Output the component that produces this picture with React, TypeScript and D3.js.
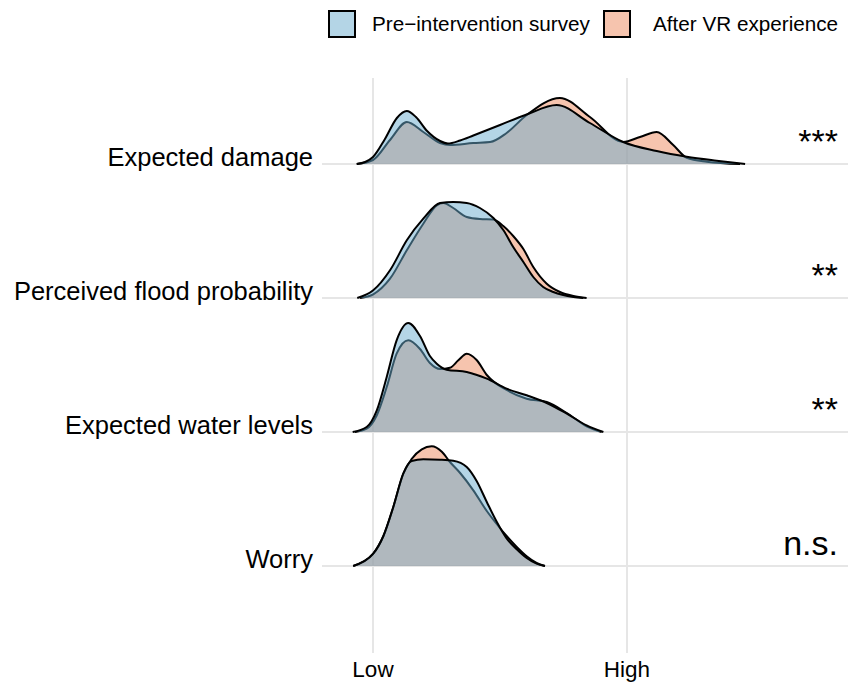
import React from "react";
import * as d3 from "d3";

// ---- data ----
const CATEGORIES = ["Expected damage", "Perceived flood probability", "Expected water levels", "Worry"];
const SIGNIFICANCE = ["***", "**", "**", "n.s."];
const SERIES = ["Pre\u2212intervention survey", "After VR experience"];
const X_TICKS = [0, 100];
const X_TICK_LABELS = ["Low", "High"];

// scaled densities: [score (Low=0, High=100), relative density]
const damagePre: [number, number][] = [
  [-6.4, 0], [-3.1, 0.02], [0, 0.07], [4.7, 0.25], [9.4, 0.46], [13.3, 0.53], [16.9, 0.47], [21.3, 0.33],
  [26.4, 0.23], [29.5, 0.205], [34.3, 0.235], [39.5, 0.285], [50, 0.39], [60.5, 0.495], [72.3, 0.59], [85.4, 0.41],
  [98.5, 0.22], [111.7, 0.13], [123.5, 0.073], [135.3, 0.033], [146.5, 0],
];
const damageAfter: [number, number][] = [
  [-6.4, 0], [0, 0.04], [6.7, 0.24], [13.3, 0.42], [19.8, 0.32], [26.4, 0.21], [30.3, 0.19], [39.5, 0.21],
  [46.1, 0.22], [52.6, 0.31], [60.5, 0.49], [73.6, 0.66], [85.4, 0.47], [98.5, 0.22], [105.1, 0.27],
  [111.7, 0.32], [118.2, 0.19], [123.5, 0.063], [131.4, 0.023], [144.5, 0],
];
const probabilityPre: [number, number][] = [
  [-6.2, 0], [0.1, 0.077], [6.7, 0.277], [13.3, 0.577], [19.8, 0.793], [26.4, 0.95], [31.6, 0.96],
  [36.9, 0.95], [42.1, 0.9], [47.4, 0.8], [51.3, 0.68], [55.2, 0.51], [59.2, 0.36], [63.1, 0.21],
  [67.0, 0.11], [71.0, 0.06], [78.9, 0.01], [82.8, 0],
];
const probabilityAfter: [number, number][] = [
  [-5.1, 0], [0.1, 0.037], [6.7, 0.193], [13.3, 0.477], [19.8, 0.743], [25.1, 0.927], [27.7, 0.95],
  [31.6, 0.9], [36.9, 0.81], [42.1, 0.79], [47.4, 0.785], [51.3, 0.72], [55.2, 0.62], [59.2, 0.49],
  [63.1, 0.31], [68.4, 0.143], [73.6, 0.06], [78.9, 0.02], [84.1, 0],
];
const waterPre: [number, number][] = [
  [-8.0, 0], [-2.5, 0.05], [1.5, 0.217], [5.4, 0.55], [9.3, 0.917], [13.9, 1.09], [18.5, 0.96],
  [22.4, 0.76], [25.1, 0.683], [29.0, 0.623], [36.9, 0.6], [44.8, 0.533], [52.6, 0.433], [60.5, 0.367],
  [68.4, 0.29], [76.3, 0.183], [84.1, 0.067], [90.7, 0],
];
const waterAfter: [number, number][] = [
  [-7.1, 0], [-2.5, 0.033], [1.5, 0.167], [5.4, 0.45], [9.3, 0.783], [13.9, 0.917], [18.5, 0.83],
  [22.4, 0.69], [26.4, 0.63], [30.3, 0.643], [33.6, 0.717], [36.9, 0.783], [40.8, 0.72], [44.8, 0.57],
  [52.6, 0.42], [60.5, 0.333], [68.4, 0.3], [76.3, 0.19], [84.1, 0.057], [90.0, 0],
];
const worryPre: [number, number][] = [
  [-7.8, 0], [-3.8, 0.043], [0.1, 0.123], [4.1, 0.3], [8.0, 0.59], [11.9, 0.923], [15.2, 1.05],
  [19.8, 1.067], [26.4, 1.063], [31.6, 1.053], [36.9, 0.99], [40.8, 0.85], [44.8, 0.64], [48.7, 0.443],
  [52.6, 0.277], [56.6, 0.167], [60.5, 0.08], [64.4, 0.023], [67.7, 0],
];
const worryAfter: [number, number][] = [
  [-7.8, 0], [-3.8, 0.043], [0.1, 0.123], [4.1, 0.3], [8.0, 0.59], [11.9, 0.92], [15.2, 1.07],
  [19.2, 1.167], [23.1, 1.197], [27.1, 1.143], [30.3, 1.04], [34.3, 0.93], [39.5, 0.757], [44.8, 0.55],
  [48.7, 0.42], [52.6, 0.3], [56.6, 0.19], [60.5, 0.097], [64.4, 0.03], [67.7, 0],
];
const PRE_DENSITIES = [damagePre, probabilityPre, waterPre, worryPre];
const AFTER_DENSITIES = [damageAfter, probabilityAfter, waterAfter, worryAfter];

const COLORS = ["#69ABCD", "#ED895D"];
const FONT = "'Liberation Sans', Arial, Helvetica, sans-serif";

export default function App() {
  const W = 859;
  const H = 683;
  const panel = { left: 322, right: 848, top: 78, bottom: 653 };

  const x = d3.scaleLinear().domain([0, 100]).range([373, 627]);
  const y = d3.scalePoint<string>().domain(CATEGORIES).range([164, 566]);
  const hs = d3.scaleLinear().domain([0, 1]).range([0, 100]);

  const makeArea = (base: number) =>
    d3
      .area<[number, number]>()
      .x((d) => x(d[0]))
      .y0(base)
      .y1((d) => base - hs(d[1]))
      .curve(d3.curveMonotoneX);
  const makeLine = (base: number) =>
    d3
      .line<[number, number]>()
      .x((d) => x(d[0]))
      .y((d) => base - hs(d[1]))
      .curve(d3.curveMonotoneX);

  const grid = "#E6E6E6";

  return (
    <svg
      width={W}
      height={H}
      style={{ position: "absolute", left: 0, top: 0, background: "#fff" }}
      fontFamily={FONT}
    >
      {/* grid */}
      {X_TICKS.map((t) => (
        <line key={"v" + t} x1={x(t)} x2={x(t)} y1={panel.top} y2={panel.bottom} stroke={grid} strokeWidth={2} />
      ))}
      {CATEGORIES.map((c) => (
        <line key={"h" + c} x1={panel.left} x2={panel.right} y1={y(c)} y2={y(c)} stroke={grid} strokeWidth={2} />
      ))}

      {/* ridges */}
      {CATEGORIES.map((c, i) => {
        const base = y(c)!;
        const area = makeArea(base);
        const line = makeLine(base);
        const groups = [
          { data: AFTER_DENSITIES[i], color: COLORS[1] },
          { data: PRE_DENSITIES[i], color: COLORS[0] },
        ];
        return (
          <g key={"r" + c}>
            {groups.map((g, j) => (
              <g key={j}>
                <path d={area(g.data) || ""} fill={g.color} fillOpacity={0.5} stroke="none" />
                <path d={line(g.data) || ""} fill="none" stroke="#000" strokeWidth={2} strokeLinejoin="round" />
              </g>
            ))}
          </g>
        );
      })}

      {/* y labels */}
      {CATEGORIES.map((c) => (
        <text key={"yl" + c} x={313} y={y(c)! + 2} textAnchor="end" fontSize={25.5} fill="#000">
          {c}
        </text>
      ))}

      {/* significance */}
      {CATEGORIES.map((c, i) => (
        <text key={"s" + c} x={838} y={y(c)! - 11} textAnchor="end" fontSize={34} fill="#000">
          {SIGNIFICANCE[i]}
        </text>
      ))}

      {/* x labels */}
      {X_TICKS.map((t, i) => (
        <text key={"xl" + t} x={x(t)} y={677} textAnchor="middle" fontSize={22.5} fill="#000">
          {X_TICK_LABELS[i]}
        </text>
      ))}

      {/* legend */}
      <g>
        <rect x={329} y={11} width={26} height={26} fill={COLORS[0]} fillOpacity={0.5} stroke="#000" strokeWidth={2} />
        <text x={372} y={31} fontSize={20.7} fill="#000">
          {SERIES[0]}
        </text>
        <rect x={604} y={11} width={26} height={26} fill={COLORS[1]} fillOpacity={0.5} stroke="#000" strokeWidth={2} />
        <text x={653} y={31} fontSize={20.7} fill="#000">
          {SERIES[1]}
        </text>
      </g>
    </svg>
  );
}
